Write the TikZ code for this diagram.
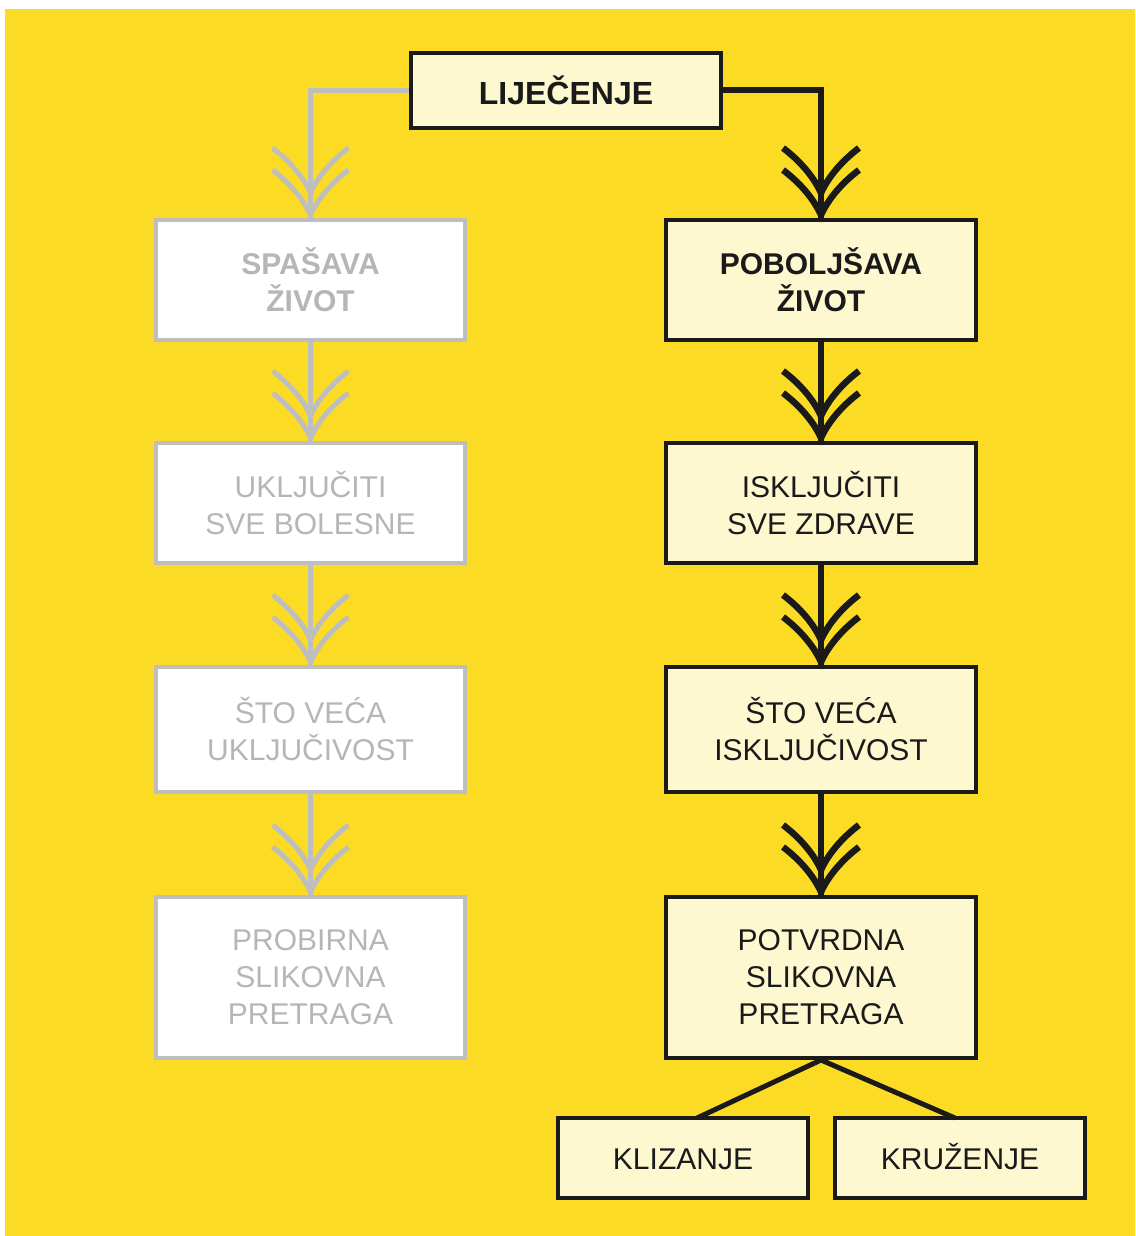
\documentclass[tikz,border=0pt]{standalone}
\usepackage{fontspec}
\setmainfont{Liberation Sans}
\definecolor{bgyellow}{RGB}{252,219,36}
\definecolor{paleyellow}{RGB}{254,248,208}
\definecolor{lightgrey}{RGB}{190,190,190}
\definecolor{textgrey}{RGB}{182,182,182}
\definecolor{inkblack}{RGB}{26,26,26}
\begin{document}
\begin{tikzpicture}[x=1pt,y=-1pt,
  txt/.style={font=\fontsize{30}{37}\selectfont, align=center},
  blackbox/.style={txt, draw=inkblack, line width=4pt, fill=paleyellow, text=inkblack, inner sep=0pt},
  greybox/.style={txt, draw=lightgrey, line width=4pt, fill=white, text=textgrey, inner sep=0pt},
  bold/.style={font=\fontsize{30}{37}\selectfont\bfseries},
  blackline/.style={draw=inkblack, line width=6pt},
  greyline/.style={draw=lightgrey, line width=5pt},
  chevron/.pic={
    \draw[pic actions, line join=miter, miter limit=20]
      (-38,-70) .. controls (-26,-61) and (-9,-45) .. (0,-25)
      .. controls (9,-45) and (26,-61) .. (38,-70);
    \draw[pic actions, line join=miter, miter limit=20]
      (-38,-48) .. controls (-26,-39) and (-9,-23) .. (0,-3)
      .. controls (9,-23) and (26,-39) .. (38,-48);
  }
]
\useasboundingbox (0,0) rectangle (1135,1236);
\fill[white] (0,0) rectangle (1135,1236);
\fill[bgyellow] (5,9) rectangle (1135,1236);

% top node
\node[blackbox, font=\fontsize{32}{37}\selectfont\bfseries, minimum width=310pt, minimum height=75pt] (lij) at (566,90.5) {LIJEČENJE};

% left column
\node[greybox, bold, minimum width=309pt, minimum height=120pt] (L1) at (310.5,280) {SPAŠAVA\\ŽIVOT};
\node[greybox, minimum width=309pt, minimum height=120pt] (L2) at (310.5,503) {UKLJUČITI\\SVE BOLESNE};
\node[greybox, minimum width=309pt, minimum height=125pt] (L3) at (310.5,729.5) {ŠTO VEĆA\\UKLJUČIVOST};
\node[greybox, minimum width=309pt, minimum height=161pt] (L4) at (310.5,977.5) {PROBIRNA\\SLIKOVNA\\PRETRAGA};

% right column
\node[blackbox, bold, minimum width=310pt, minimum height=120pt] (R1) at (821,280) {POBOLJŠAVA\\ŽIVOT};
\node[blackbox, minimum width=310pt, minimum height=120pt] (R2) at (821,503) {ISKLJUČITI\\SVE ZDRAVE};
\node[blackbox, minimum width=310pt, minimum height=125pt] (R3) at (821,729.5) {ŠTO VEĆA\\ISKLJUČIVOST};
\node[blackbox, minimum width=310pt, minimum height=161pt] (R4) at (821,977.5) {POTVRDNA\\SLIKOVNA\\PRETRAGA};

% bottom nodes
\node[blackbox, minimum width=250pt, minimum height=80pt, text height=22pt, text depth=0pt] (K1) at (683,1158) {KLIZANJE};
\node[blackbox, minimum width=250pt, minimum height=80pt, text height=22pt, text depth=0pt] (K2) at (960,1158) {KRUŽENJE};

% connectors
\draw[greyline] (lij.west) -| (L1.north);
\draw[blackline] (lij.east) -| (R1.north);
\draw[greyline] (L1.south) -- (L2.north);
\draw[greyline] (L2.south) -- (L3.north);
\draw[greyline] (L3.south) -- (L4.north);
\draw[blackline] (R1.south) -- (R2.north);
\draw[blackline] (R2.south) -- (R3.north);
\draw[blackline] (R3.south) -- (R4.north);

\foreach \n in {L1,L2,L3,L4}
  \pic[draw=lightgrey, line width=5pt] at (\n.north) {chevron};
\foreach \n in {R1,R2,R3,R4}
  \pic[draw=inkblack, line width=6.5pt] at (\n.north) {chevron};

\coordinate (K1top) at (697,1118);
\coordinate (K2top) at (955,1118);
\draw[draw=inkblack, line width=5pt] (K1top) -- (R4.south) -- (K2top);
\end{tikzpicture}
\end{document}
